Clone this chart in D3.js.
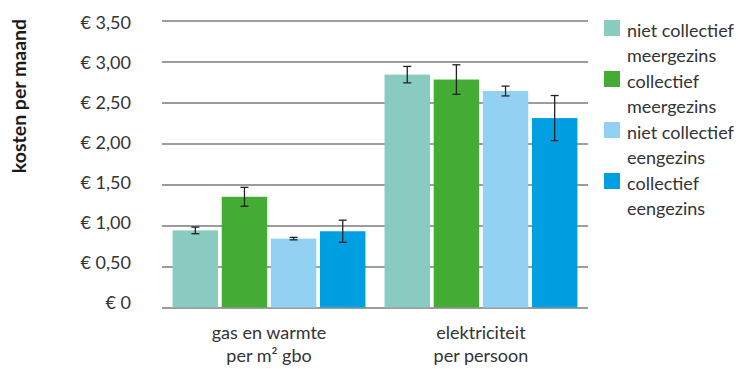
<!DOCTYPE html>
<html><head><meta charset="utf-8">
<script src="https://cdn.jsdelivr.net/npm/d3@7"></script>
<style>body{margin:0;background:#fff}svg{display:block}text{font-family:Lato,"Noto Sans",sans-serif}</style>
</head><body><svg id="c" width="738" height="369"></svg>
<script>
const groups = ["gas en warmte|per m² gbo", "elektriciteit|per persoon"];
const seriesNames = ["niet collectief|meergezins", "collectief|meergezins", "niet collectief|eengezins", "collectief|eengezins"];
const colors = ["#89CBC0", "#44AB35", "#93D1F3", "#009FE2"];
const values = [
  [0.94, 2.84],
  [1.35, 2.78],
  [0.84, 2.64],
  [0.93, 2.31]
];
const errors = [
  [0.04, 0.10],
  [0.115, 0.18],
  [0.015, 0.06],
  [0.135, 0.275]
];
const yTicks = [0, 0.5, 1, 1.5, 2, 2.5, 3, 3.5];
const yTickLabels = ["€ 0", "€ 0,50", "€ 1,00", "€ 1,50", "€ 2,00", "€ 2,50", "€ 3,00", "€ 3,50"];
const yTitle = "kosten per maand";

(function(){
const svg = d3.select("#c");
const pl = 162, pr = 588, pt = 20.5, pb = 307.5;
const y = d3.scaleLinear().domain([0, 3.5]).range([pb, pt]);
// tick labels in the original sit on a slightly tighter spacing than the grid
const yLab = d3.scaleLinear().domain([0, 3.5]).range([308, 28]);
const x0 = d3.scaleBand().domain(groups).range([pl, pr]).paddingInner(0.09).paddingOuter(0.05);
const x1 = d3.scaleBand().domain(d3.range(seriesNames.length)).range([0, x0.bandwidth()]).paddingInner(0.075);

const ga = svg.append("g").attr("transform", `translate(${pl},0)`)
  .call(d3.axisLeft(y).tickValues(yTicks).tickSize(-(pr - pl)).tickFormat(""));
ga.select(".domain").remove();
ga.selectAll(".tick line").attr("stroke", "#3a3a3a").attr("stroke-width", 1.1);

const gl = svg.append("g").attr("transform", `translate(131,0)`)
  .call(d3.axisLeft(yLab).tickValues(yTicks).tickSize(0).tickPadding(0).tickFormat((d, i) => yTickLabels[i]));
gl.select(".domain").remove();
gl.selectAll(".tick text").attr("fill", "#333").style("font-size", "18px").attr("dy", 0);

const gg = svg.append("g");
seriesNames.forEach((s, si) => {
  groups.forEach((g, gi) => {
    const v = values[si][gi], e = errors[si][gi];
    const bx = x0(g) + x1(si), bw = x1.bandwidth();
    gg.append("rect").attr("x", bx).attr("y", y(v)).attr("width", bw).attr("height", y(0) - y(v)).attr("fill", colors[si]);
    const cx = bx + bw / 2;
    const eg = gg.append("g").attr("stroke", "#222").attr("stroke-width", 1.3);
    eg.append("line").attr("x1", cx).attr("x2", cx).attr("y1", y(v + e)).attr("y2", y(v - e));
    eg.append("line").attr("x1", cx - 4).attr("x2", cx + 4).attr("y1", y(v + e)).attr("y2", y(v + e));
    eg.append("line").attr("x1", cx - 4).attr("x2", cx + 4).attr("y1", y(v - e)).attr("y2", y(v - e));
  });
});

groups.forEach(g => {
  const lines = g.split("|");
  const cx = x0(g) + x0.bandwidth() / 2;
  const t = svg.append("text").attr("x", cx).attr("y", 339)
    .attr("text-anchor", "middle").attr("fill", "#333").style("font-size", "18px");
  lines.forEach((l, i) => t.append("tspan").attr("x", cx).attr("dy", i ? 23 : 0).text(l));
});

svg.append("text").attr("transform", "translate(26,96) rotate(-90)").attr("text-anchor", "middle")
  .attr("fill", "#1a1a1a").style("font-size", "19.5px").style("font-weight", "bold").text(yTitle);

seriesNames.forEach((s, i) => {
  const ly = 20 + i * 51;
  svg.append("rect").attr("x", 604).attr("y", ly).attr("width", 16).attr("height", 16).attr("fill", colors[i]);
  const t = svg.append("text").attr("x", 627).attr("y", ly + 16.5).attr("fill", "#333").style("font-size", "18px");
  s.split("|").forEach((l, j) => t.append("tspan").attr("x", 627).attr("dy", j ? 25 : 0).text(l));
});
})();
</script></body></html>
